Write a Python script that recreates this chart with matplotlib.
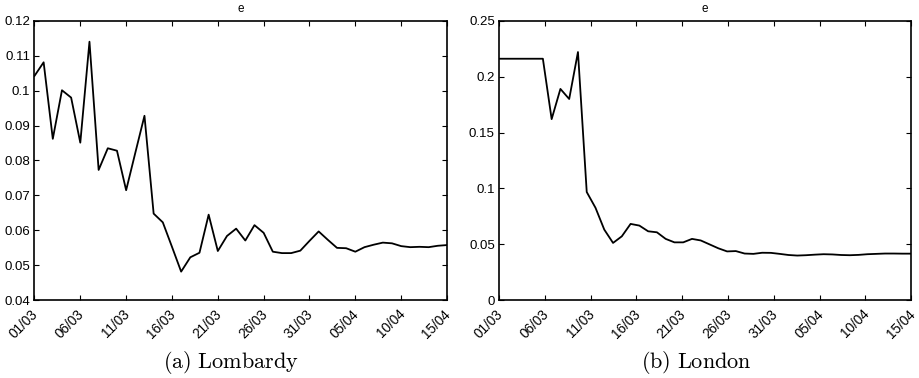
import numpy as np
import matplotlib
matplotlib.use("Agg")
import matplotlib.pyplot as plt
import matplotlib.transforms as mtransforms
from matplotlib.ticker import FormatStrFormatter

plt.rcParams['font.family'] = ['Liberation Sans', 'DejaVu Sans']
plt.rcParams['mathtext.fontset'] = 'cm'

# daily values of e, 01/03 -> 15/04
lombardy = [0.1042, 0.1081, 0.0862, 0.1001, 0.0980, 0.0851, 0.1140, 0.0773,
            0.0835, 0.0828, 0.0715, 0.0822, 0.0928, 0.0648, 0.0623, 0.0553,
            0.0482, 0.0523, 0.0536, 0.0645, 0.0541, 0.0584, 0.0605, 0.0571,
            0.0615, 0.0593, 0.0539, 0.0535, 0.0535, 0.0542, 0.0570, 0.0597,
            0.0573, 0.0550, 0.0549, 0.0539, 0.0552, 0.0559, 0.0565, 0.0563,
            0.0555, 0.0552, 0.0553, 0.0552, 0.0556, 0.0558]

london = [0.216, 0.216, 0.216, 0.216, 0.216, 0.216, 0.162, 0.189,
          0.180, 0.222, 0.0968, 0.0827, 0.0632, 0.0513, 0.0572, 0.0683,
          0.0668, 0.0617, 0.0608, 0.0549, 0.0518, 0.0518, 0.0549, 0.0535,
          0.0500, 0.0465, 0.0437, 0.0440, 0.0418, 0.0415, 0.0425, 0.0424,
          0.0415, 0.0405, 0.0400, 0.0403, 0.0408, 0.0412, 0.0410, 0.0405,
          0.0403, 0.0406, 0.0412, 0.0415, 0.0418, 0.0418, 0.0417, 0.0417]

date_labels = ['01/03', '06/03', '11/03', '16/03', '21/03', '26/03',
               '31/03', '05/04', '10/04', '15/04']
n_days = 45

fig = plt.figure(figsize=(9.19, 3.78), dpi=100)
ax1 = fig.add_axes([0.0375, 0.2056, 0.4489, 0.7396])
ax2 = fig.add_axes([0.5430, 0.2056, 0.4486, 0.7396])

# nudge the slanted date labels so they hang from the tick
shift = mtransforms.ScaledTranslation(1.5 / 100, 1 / 100, fig.dpi_scale_trans)


def style(ax, ylim, yticks, caption, cx):
    ax.set_xlim(0, n_days)
    ax.set_ylim(*ylim)
    ax.set_yticks(yticks)
    ax.yaxis.set_major_formatter(FormatStrFormatter('%g'))
    ax.set_xticks(np.arange(0, n_days + 1, 5))
    ax.set_xticklabels(date_labels, rotation=45, ha='right', va='center',
                       rotation_mode='anchor', fontsize=9.8)
    ax.tick_params(direction='in', length=3.5, width=0.8, top=True, right=True)
    ax.tick_params(axis='y', labelsize=9.5, pad=3)
    ax.tick_params(axis='x', pad=9)
    for lab in ax.get_xticklabels():
        lab.set_transform(lab.get_transform() + shift)
    for s in ax.spines.values():
        s.set_linewidth(1.2)
    ax.set_title('e', fontsize=8.5, pad=6)
    fig.text(cx, 0.04, caption, ha='center', va='center', fontsize=16)


x1 = np.arange(len(lombardy))
ax1.plot(x1, lombardy, color='black', lw=1.3)
style(ax1, (0.04, 0.12), np.arange(0.04, 0.1201, 0.01),
      r'$\mathrm{(a)\ Lombardy}$', 231 / 919)

x2 = np.linspace(0, n_days, len(london))
ax2.plot(x2, london, color='black', lw=1.3)
style(ax2, (0, 0.25), np.arange(0, 0.2501, 0.05),
      r'$\mathrm{(b)\ London}$', 696 / 919)

fig.savefig('out.png', dpi=100)
